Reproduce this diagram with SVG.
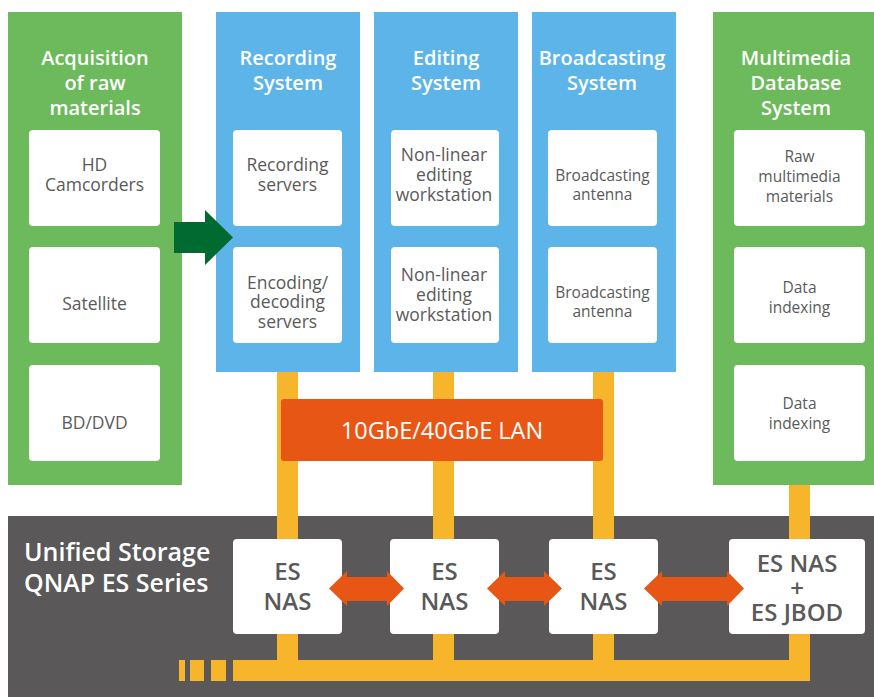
<svg xmlns="http://www.w3.org/2000/svg" width="874" height="697" viewBox="0 0 874 697">
<style>
.green{fill:#6CBA5B}
.blue{fill:#5DB4E8}
.box{fill:#FFFFFF}
.yel{fill:#F7B52C}
.org{fill:#E85615}
.hd{font-family:"Open Sans","Noto Sans","Liberation Sans",sans-serif;font-size:20px;font-weight:600;fill:#FFFFFF;text-anchor:middle}
.bt{font-family:"Open Sans","Noto Sans","Liberation Sans",sans-serif;font-size:17.5px;fill:#5A5A5A;text-anchor:middle}
.st{font-family:"Open Sans","Noto Sans","Liberation Sans",sans-serif;font-size:15.5px;fill:#5A5A5A;text-anchor:middle}
.nas{font-family:"Open Sans","Noto Sans","Liberation Sans",sans-serif;font-size:24px;font-weight:600;fill:#595959;text-anchor:middle}
.us{font-family:"Open Sans","Noto Sans","Liberation Sans",sans-serif;font-size:25px;font-weight:600;fill:#FFFFFF}
.lan{font-family:"Open Sans","Noto Sans","Liberation Sans",sans-serif;font-size:23.5px;fill:#FFFFFF;text-anchor:middle}
</style>
<rect x="0" y="0" width="874" height="697" fill="#FFFFFF"/>

<g id="storage">
<rect x="8" y="516" width="866" height="181" fill="#5A5859"/>
<text class="us" x="24" y="561">Unified Storage</text>
<text class="us" x="24" y="592">QNAP ES Series</text>
</g>

<g id="connectors">
<rect class="yel" x="277" y="372" width="21" height="300"/>
<rect class="yel" x="433" y="372" width="21" height="300"/>
<rect class="yel" x="593" y="372" width="21" height="300"/>
<rect class="yel" x="789" y="484" width="21" height="197"/>
<rect class="yel" x="233" y="660" width="577" height="21"/>
<rect class="yel" x="179" y="660" width="6" height="21"/>
<rect class="yel" x="190" y="660" width="14" height="21"/>
<rect class="yel" x="211" y="660" width="15" height="21"/>
</g>

<g id="acquisition">
<rect class="green" x="8" y="12" width="174" height="473"/>
<text class="hd" x="95" y="65">Acquisition</text>
<text class="hd" x="95" y="90">of raw</text>
<text class="hd" x="95" y="115">materials</text>
<rect class="box" x="29" y="130" width="131" height="96" rx="4"/>
<text class="bt" x="94.5" y="171">HD</text>
<text class="bt" x="94.5" y="191">Camcorders</text>
<rect class="box" x="29" y="247" width="131" height="96" rx="4"/>
<text class="bt" x="94.5" y="310">Satellite</text>
<rect class="box" x="29" y="365" width="131" height="96" rx="4"/>
<text class="bt" x="94.5" y="429">BD/DVD</text>
</g>

<g id="recording">
<rect class="blue" x="216" y="12" width="144" height="360"/>
<text class="hd" x="288" y="65">Recording</text>
<text class="hd" x="288" y="90">System</text>
<rect class="box" x="233" y="130" width="109" height="96" rx="4"/>
<text class="bt" x="287.5" y="171">Recording</text>
<text class="bt" x="287.5" y="191">servers</text>
<rect class="box" x="233" y="247" width="109" height="96" rx="4"/>
<text class="bt" x="287.5" y="289">Encoding/</text>
<text class="bt" x="287.5" y="308">decoding</text>
<text class="bt" x="287.5" y="328">servers</text>
</g>

<g id="editing">
<rect class="blue" x="374" y="12" width="144" height="360"/>
<text class="hd" x="446" y="65">Editing</text>
<text class="hd" x="446" y="90">System</text>
<rect class="box" x="391" y="130" width="108" height="96" rx="4"/>
<text class="bt" x="444" y="161">Non-linear</text>
<text class="bt" x="444" y="181">editing</text>
<text class="bt" x="444" y="201">workstation</text>
<rect class="box" x="391" y="247" width="108" height="96" rx="4"/>
<text class="bt" x="444" y="281">Non-linear</text>
<text class="bt" x="444" y="301">editing</text>
<text class="bt" x="444" y="321">workstation</text>
</g>

<g id="broadcasting">
<rect class="blue" x="532" y="12" width="144" height="360"/>
<text class="hd" x="602" y="65">Broadcasting</text>
<text class="hd" x="602" y="90">System</text>
<rect class="box" x="548" y="130" width="109" height="96" rx="4"/>
<text class="st" x="602.5" y="181">Broadcasting</text>
<text class="st" x="602.5" y="200">antenna</text>
<rect class="box" x="548" y="247" width="109" height="96" rx="4"/>
<text class="st" x="602.5" y="298">Broadcasting</text>
<text class="st" x="602.5" y="317">antenna</text>
</g>

<g id="multimedia">
<rect class="green" x="713" y="12" width="161" height="473"/>
<text class="hd" x="796" y="65">Multimedia</text>
<text class="hd" x="796" y="90">Database</text>
<text class="hd" x="796" y="115">System</text>
<rect class="box" x="734" y="130" width="131" height="96" rx="4"/>
<text class="st" x="799.5" y="162">Raw</text>
<text class="st" x="799.5" y="182">multimedia</text>
<text class="st" x="799.5" y="202">materials</text>
<rect class="box" x="734" y="247" width="131" height="96" rx="4"/>
<text class="st" x="799.5" y="293">Data</text>
<text class="st" x="799.5" y="313">indexing</text>
<rect class="box" x="734" y="365" width="131" height="96" rx="4"/>
<text class="st" x="799.5" y="409">Data</text>
<text class="st" x="799.5" y="429">indexing</text>
</g>

<g id="flow">
<polygon fill="#006A31" points="174,222 205,222 205,210 233,237.5 205,265 205,253 174,253"/>
</g>

<g id="lan">
<rect class="org" x="281" y="399" width="322" height="62" rx="3"/>
<text class="lan" x="442" y="439">10GbE/40GbE LAN</text>
</g>

<g id="nas1">
<rect class="box" x="233" y="539" width="109" height="95" rx="4"/>
<text class="nas" x="287.5" y="580">ES</text>
<text class="nas" x="287.5" y="610">NAS</text>
</g>
<g id="nas2">
<rect class="box" x="390" y="539" width="109" height="95" rx="4"/>
<text class="nas" x="444.5" y="580">ES</text>
<text class="nas" x="444.5" y="610">NAS</text>
</g>
<g id="nas3">
<rect class="box" x="549" y="539" width="109" height="95" rx="4"/>
<text class="nas" x="603.5" y="580">ES</text>
<text class="nas" x="603.5" y="610">NAS</text>
</g>
<g id="nas4">
<rect class="box" x="729" y="539" width="136" height="95" rx="4"/>
<text class="nas" x="797" y="572">ES NAS</text>
<text class="nas" x="797" y="597">+</text>
<text class="nas" x="797" y="621">ES JBOD</text>
</g>

<g id="links">
<polygon class="org" points="329,588.5 347,571 347,577 387,577 387,571 404,588.5 387,606 387,601 347,601 347,606"/>
<polygon class="org" points="487,588.5 505,571 505,577 544,577 544,571 562,588.5 544,606 544,601 505,601 505,606"/>
<polygon class="org" points="644,588.5 662,571 662,577 727,577 727,571 744,588.5 727,606 727,601 662,601 662,606"/>
</g>
</svg>
